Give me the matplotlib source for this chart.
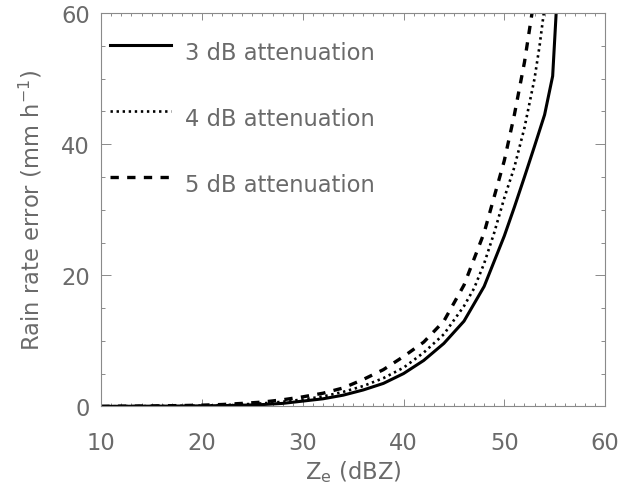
import numpy as np
import matplotlib
matplotlib.use("Agg")
from matplotlib import pyplot as plt
from matplotlib.ticker import MultipleLocator
from matplotlib.legend_handler import HandlerLine2D

# rain rate error vs reflectivity for three attenuation values
ze_3db = [10, 12, 14, 16, 18, 20, 22, 24, 26, 28, 30, 32, 34, 36, 38, 40, 42, 44, 46, 48,
          50, 51, 52, 53, 54, 54.8, 55.4]
err_3db = [0.0, 0.01, 0.02, 0.03, 0.05, 0.07, 0.11, 0.17, 0.27, 0.45, 0.8, 1.15, 1.7, 2.5, 3.5,
           5.0, 7.0, 9.6, 13.0, 18.3, 26.0, 30.4, 35.0, 39.7, 44.5, 50.4, 67.0]

ze_4db = [10, 12, 14, 16, 18, 20, 22, 24, 26, 28, 30, 32, 34, 36, 38, 40, 42, 44, 46, 47, 48,
          49, 50, 51, 52, 53, 53.5, 54]
err_4db = [0.0, 0.02, 0.03, 0.05, 0.08, 0.12, 0.18, 0.3, 0.45, 0.7, 1.05, 1.5, 2.2, 3.1, 4.3,
           5.9, 8.2, 11.0, 15.3, 18.0, 21.8, 26.5, 31.8, 36.5, 42.5, 50.0, 55.0, 61.0]

ze_5db = [10, 12, 14, 16, 18, 20, 22, 24, 26, 28, 30, 32, 34, 36, 38, 40, 42, 44, 46, 48,
          49, 50, 51, 52, 53]
err_5db = [0.0, 0.03, 0.05, 0.08, 0.12, 0.18, 0.28, 0.45, 0.65, 1.0, 1.45, 2.0, 2.8, 4.1, 5.6,
           7.6, 9.8, 13.0, 18.5, 26.5, 32.0, 37.5, 44.5, 52.5, 62.5]

labels = ['3 dB attenuation', '4 dB attenuation', '5 dB attenuation']

grey = '#8a8a8a'
txt = '#6a6a6a'
fs = 16.3


class RaisedLine(HandlerLine2D):
    # legend keys sit a little above the middle of the label
    def create_artists(self, *args, **kw):
        arts = super().create_artists(*args, **kw)
        for a in arts:
            a.set_ydata(np.asarray(a.get_ydata()) + 4.5)
        return arts


plt.rcParams['font.family'] = 'DejaVu Sans'
plt.rcParams['mathtext.fontset'] = 'dejavusans'

fig = plt.figure(figsize=(6.27, 4.89), dpi=100)
ax = fig.add_axes([0.1615, 0.167, 0.8035, 0.804])

l1, = ax.plot(ze_3db, err_3db, color='k', lw=2.2, solid_joinstyle='miter')
l2, = ax.plot(ze_4db, err_4db, color='k', lw=1.9, linestyle=(0, (0.9, 1.4)))
l3, = ax.plot(ze_5db, err_5db, color='k', lw=2.4, linestyle=(0, (2.5, 2.5)))

ax.set_xlim(10, 60)
ax.set_ylim(0, 60)
ax.xaxis.set_major_locator(MultipleLocator(10))
ax.xaxis.set_minor_locator(MultipleLocator(1))
ax.yaxis.set_major_locator(MultipleLocator(20))
ax.yaxis.set_minor_locator(MultipleLocator(5))

for s in ax.spines.values():
    s.set_color(grey)
    s.set_linewidth(0.8)

ax.tick_params(axis='x', which='both', direction='in', top=True, colors=grey,
               labelcolor=txt, labelsize=fs, pad=17.5, width=0.7)
ax.tick_params(axis='x', which='major', length=5)
ax.tick_params(axis='x', which='minor', length=2.5)
ax.tick_params(axis='y', which='both', direction='in', right=True, colors=grey,
               labelcolor=txt, labelsize=fs, pad=8, width=0.7)
ax.tick_params(axis='y', which='major', length=7)
ax.tick_params(axis='y', which='minor', length=3)

ax.set_xlabel('Z$_\\mathregular{e}$ (dBZ)', fontsize=fs, color=txt)
ax.set_ylabel('Rain rate error (mm h$^\\mathregular{-1}$)', fontsize=fs, color=txt)
ax.xaxis.set_label_coords(0.5, -0.132)
ax.yaxis.set_label_coords(-0.112, 0.5)

leg = ax.legend([l1, l2, l3], labels, loc='upper left', frameon=False,
                bbox_to_anchor=(0.018, 0.93), borderpad=0, borderaxespad=0,
                handlelength=2.66, handletextpad=0.62, labelspacing=1.90,
                fontsize=fs, labelcolor=txt,
                handler_map={l1: RaisedLine(), l2: RaisedLine(), l3: RaisedLine()})

fig.savefig('out.png', dpi=100)
